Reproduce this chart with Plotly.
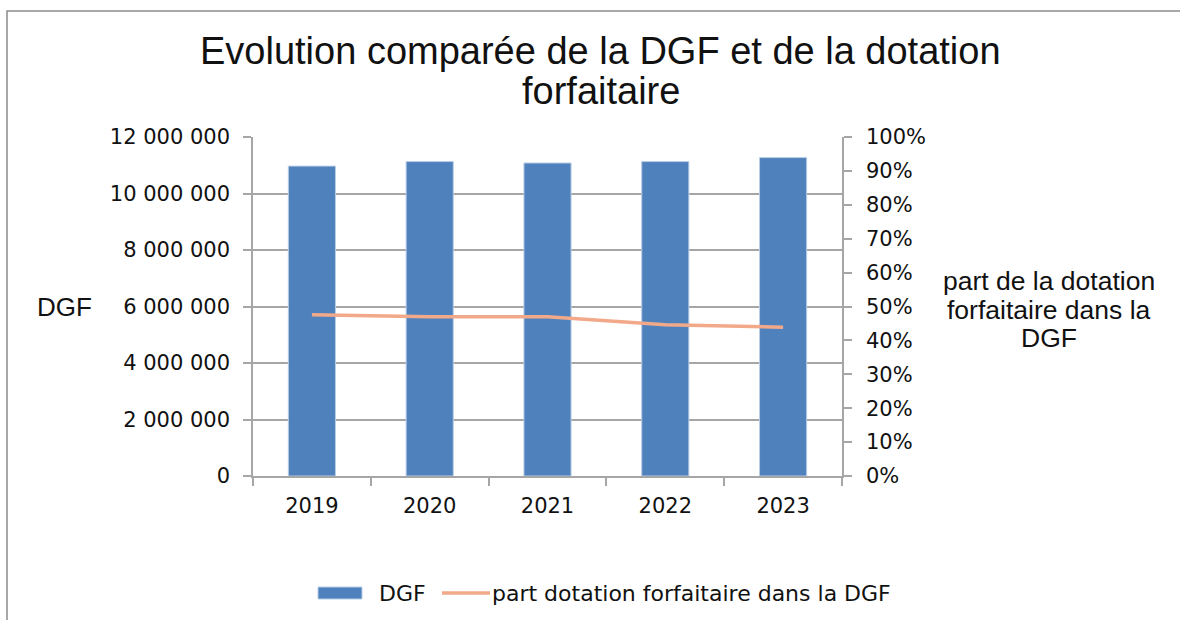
import plotly.graph_objects as go

years = ["2019", "2020", "2021", "2022", "2023"]
dgf = [10970000, 11130000, 11080000, 11130000, 11270000]
part = [0.476, 0.470, 0.470, 0.446, 0.439]
left_ticks = [0, 2000000, 4000000, 6000000, 8000000, 10000000, 12000000]
right_ticks = [i / 10 for i in range(11)]

L, R, T, B = 253, 842, 137, 476
W, H = 1180, 620
BAR_C = "#4F81BD"
LINE_C = "#F2A98A"
AX_C = "#A6A6A6"
TXT = "#111111"
ARIAL = "Liberation Sans, Arial, sans-serif"
CAL = "DejaVu Sans, sans-serif"


def px(x):
    return (x - L) / (R - L)


def py(y):
    return (B - y) / (B - T)


fig = go.Figure()
fig.add_trace(go.Bar(x=years, y=dgf, name="DGF", width=0.4, yaxis="y", showlegend=False,
                     marker=dict(color=BAR_C, line=dict(color="#B9CDE5", width=1))))
fig.add_trace(go.Scatter(x=years, y=part, name="part dotation forfaitaire dans la DGF", mode="lines",
                         showlegend=False, line=dict(color=LINE_C, width=3.5), yaxis="y2"))

tickfont = dict(family=CAL, size=21, color=TXT)
fig.update_layout(
    width=W, height=H,
    margin=dict(l=L, r=W - R, t=T, b=H - B),
    paper_bgcolor="white", plot_bgcolor="white",
    separators=", ",
    showlegend=False,
    xaxis=dict(type="category", showline=True, linecolor=AX_C, linewidth=1.5, ticks="outside",
               tickson="boundaries", ticklen=8, tickcolor=AX_C, tickwidth=1.5, tickfont=tickfont,
               showgrid=False, range=[-0.5, 4.5], ticklabelstandoff=10),
    yaxis=dict(range=[0, 12000000], tickvals=left_ticks, tickformat=",d", showline=True, linecolor=AX_C,
               linewidth=1.5, ticks="outside", ticklen=8, tickcolor=AX_C, tickwidth=1.5, tickfont=tickfont,
               showgrid=True, gridcolor=AX_C, gridwidth=1.5, zeroline=False, ticklabelstandoff=9),
    yaxis2=dict(range=[0, 1], tickvals=right_ticks, tickformat=".0%", overlaying="y", side="right",
                showline=True, linecolor=AX_C, linewidth=1.5, ticks="outside", ticklen=8,
                tickcolor=AX_C, tickwidth=1.5, tickfont=tickfont, showgrid=False, zeroline=False,
                ticklabelstandoff=10),
    yaxis3=dict(range=[0, 12000000], tickvals=left_ticks, overlaying="y", side="left", ticks="inside",
                ticklen=7, tickcolor=AX_C, tickwidth=1.5, showticklabels=False, showgrid=False,
                zeroline=False, showline=False),
    yaxis4=dict(range=[0, 1], tickvals=right_ticks, overlaying="y", side="right", ticks="inside",
                ticklen=4, tickcolor=AX_C, tickwidth=1.5, showticklabels=False, showgrid=False,
                zeroline=False, showline=False),
)

# Title (two lines)
fig.add_annotation(text="Evolution comparée de la DGF et de la dotation", x=px(600), y=py(51),
                   xref="paper", yref="paper", xanchor="center", yanchor="middle", showarrow=False,
                   font=dict(family=ARIAL, size=38, color=TXT))
fig.add_annotation(text="forfaitaire", x=px(601), y=py(91), xref="paper", yref="paper",
                   xanchor="center", yanchor="middle", showarrow=False,
                   font=dict(family=ARIAL, size=38, color=TXT))

# Axis titles
fig.add_annotation(text="DGF", x=px(64), y=py(307), xref="paper", yref="paper", xanchor="center",
                   yanchor="middle", showarrow=False, font=dict(family=ARIAL, size=26, color=TXT))
for txt, yy in [("part de la dotation", 281), ("forfaitaire dans la", 310), ("DGF", 338)]:
    fig.add_annotation(text=txt, x=px(1049), y=py(yy), xref="paper", yref="paper", xanchor="center",
                       yanchor="middle", showarrow=False, font=dict(family=ARIAL, size=26.5, color=TXT))

# Legend (drawn manually to match the swatch shapes)
fig.add_shape(type="rect", xref="paper", yref="paper", x0=px(318), x1=px(362), y0=py(599), y1=py(587),
              fillcolor=BAR_C, line=dict(color="#B9CDE5", width=1))
fig.add_annotation(text="DGF", x=px(377), y=py(593), xref="paper", yref="paper", xanchor="left",
                   yanchor="middle", showarrow=False, font=dict(family=CAL, size=22, color=TXT))
fig.add_shape(type="line", xref="paper", yref="paper", x0=px(442), x1=px(490), y0=py(593), y1=py(593),
              line=dict(color=LINE_C, width=3.5))
fig.add_annotation(text="part dotation forfaitaire dans la DGF", x=px(490), y=py(593), xref="paper",
                   yref="paper", xanchor="left", yanchor="middle", showarrow=False,
                   font=dict(family=CAL, size=22, color=TXT))

# Chart frame
fig.add_shape(type="rect", xref="paper", yref="paper", x0=px(7), y0=py(700), x1=px(1300), y1=py(11),
              line=dict(color="#8C8C8C", width=1.5), layer="below")

fig.write_html("out.html")
